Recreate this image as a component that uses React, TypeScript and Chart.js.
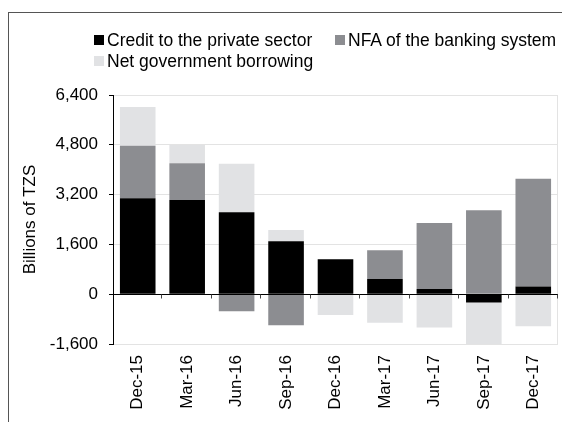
import React, { useEffect, useRef } from "react";
import { Chart, registerables } from "chart.js";

Chart.register(...registerables);

const categories = ["Dec-15", "Mar-16", "Jun-16", "Sep-16", "Dec-16", "Mar-17", "Jun-17", "Sep-17", "Dec-17"];
const creditPrivate = [3080, 3030, 2630, 1700, 1120, 490, 170, -270, 250];
const nfaBanking = [1690, 1180, -550, -1000, 0, 925, 2120, 2700, 3460];
const netGovBorrowing = [1245, 580, 1560, 360, -665, -920, -1070, -1380, -1030];
const yTicks = [-1600, 0, 1600, 3200, 4800, 6400];
const seriesNames = ["Credit to the private sector", "NFA of the banking system", "Net government borrowing"];
const seriesColors = ["#000000", "#8c8d91", "#e1e2e4"];

const FONT = "'Liberation Sans', Arial, Helvetica, sans-serif";

const zeroLinePlugin = {
  id: "zeroLine",
  beforeDatasetsDraw(chart: any) {
    const { ctx, chartArea } = chart;
    ctx.save();
    ctx.strokeStyle = "#e3e3e3";
    ctx.lineWidth = 1;
    ctx.beginPath();
    ctx.moveTo(Math.round(chartArea.right) - 0.5, chartArea.top);
    ctx.lineTo(Math.round(chartArea.right) - 0.5, chartArea.bottom);
    ctx.stroke();
    ctx.restore();
  },
  afterDatasetsDraw(chart: any) {
    const { ctx, chartArea, scales } = chart;
    const y0 = Math.round(scales.y.getPixelForValue(0)) + 0.5;
    ctx.save();
    ctx.strokeStyle = "#000";
    ctx.lineWidth = 1.2;
    ctx.beginPath();
    ctx.moveTo(chartArea.left, y0);
    ctx.lineTo(chartArea.right, y0);
    ctx.stroke();
    const n = categories.length;
    const w = (chartArea.right - chartArea.left) / n;
    ctx.strokeStyle = "#444";
    ctx.lineWidth = 1;
    for (let i = 1; i <= n; i++) {
      const x = Math.round(chartArea.left + i * w) - 0.5;
      ctx.beginPath();
      ctx.moveTo(x, y0);
      ctx.lineTo(x, y0 + 4);
      ctx.stroke();
    }
    ctx.restore();
  },
};

function App() {
  const canvasRef = useRef<HTMLCanvasElement | null>(null);

  useEffect(() => {
    document.body.style.overflow = "hidden";
    if (!canvasRef.current) return;
    const chart = new Chart(canvasRef.current, {
      type: "bar",
      data: {
        labels: categories,
        datasets: [
          { label: seriesNames[0], data: creditPrivate, backgroundColor: seriesColors[0] },
          { label: seriesNames[1], data: nfaBanking, backgroundColor: seriesColors[1] },
          { label: seriesNames[2], data: netGovBorrowing, backgroundColor: seriesColors[2] },
        ],
      },
      options: {
        responsive: false,
        animation: false,
        layout: { padding: { left: 0, right: 12, top: 87, bottom: 0 } },
        datasets: { bar: { barPercentage: 0.72, categoryPercentage: 1 } },
        plugins: { legend: { display: false }, tooltip: { enabled: false } },
        scales: {
          x: {
            stacked: true,
            grid: { display: false, drawTicks: false },
            border: { display: false },
            ticks: {
              color: "#000",
              font: { family: FONT, size: 17 },
              minRotation: 90,
              maxRotation: 90,
              padding: 11,
            },
            afterFit(scale: any) {
              scale.height = 78;
            },
          },
          y: {
            stacked: true,
            min: -1600,
            max: 6400,
            grid: { color: "#e3e3e3", tickColor: "#000", tickLength: 4 },
            border: { display: true, color: "#000", width: 1 },
            ticks: {
              color: "#000",
              font: { family: FONT, size: 17 },
              padding: 11,
              callback: (v: any) => Number(v).toLocaleString("en-US"),
            },
            afterBuildTicks(scale: any) {
              scale.ticks = yTicks.map((v) => ({ value: v }));
            },
            afterFit(scale: any) {
              scale.width = 105;
            },
            title: {
              display: true,
              text: "Billions of TZS",
              color: "#000",
              font: { family: FONT, size: 17 },
              padding: { top: 12, bottom: 0 },
            },
          },
        },
      },
      plugins: [zeroLinePlugin],
    } as any);
    return () => chart.destroy();
  }, []);

  const legendItem = (i: number, left: number, top: number) => (
    <div
      key={i}
      style={{
        position: "absolute",
        left,
        top,
        display: "flex",
        alignItems: "center",
        fontFamily: FONT,
        fontSize: 17.5,
        color: "#000",
        whiteSpace: "nowrap",
        lineHeight: "22px",
      }}
    >
      <span style={{ display: "inline-block", width: 10, height: 10, background: seriesColors[i], marginRight: 3 }} />
      <span>{seriesNames[i]}</span>
    </div>
  );

  return (
    <div style={{ position: "relative", width: 562, height: 414, overflow: "hidden" }}>
      <canvas ref={canvasRef} width={562} height={414} style={{ display: "block" }} />
      <div
        style={{
          position: "absolute",
          left: 0,
          top: 4,
          width: 580,
          height: 430,
          borderTop: "1px solid #555",
          borderLeft: "1px solid #555",
          pointerEvents: "none",
        }}
      />
      {legendItem(0, 86, 21)}
      {legendItem(1, 327, 21)}
      {legendItem(2, 86, 42)}
    </div>
  );
}

export default App;
